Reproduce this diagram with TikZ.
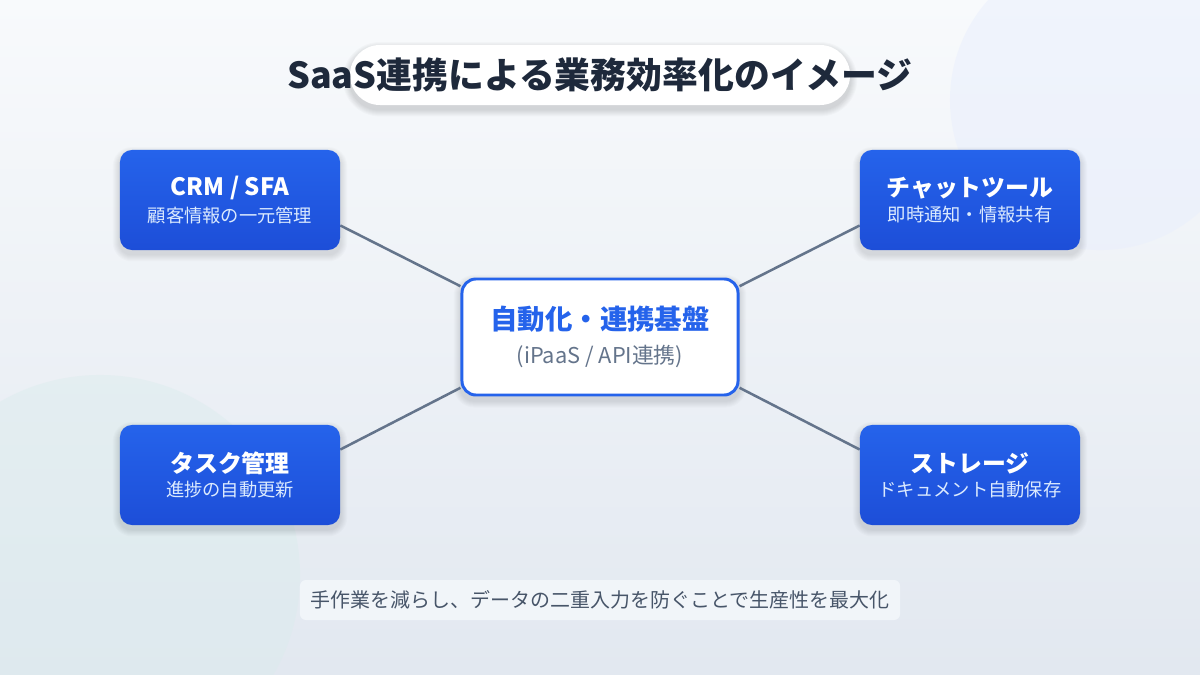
\documentclass[tikz,border=0pt]{standalone}
\usepackage{fontspec}
\setmainfont{Noto Sans CJK JP}

\definecolor{bgtop}{HTML}{F8FAFC}
\definecolor{bgbot}{HTML}{E2E8F0}
\definecolor{appblue}{HTML}{2563EB}
\definecolor{appdeep}{HTML}{1D4ED8}
\definecolor{appsub}{HTML}{DBEAFE}
\definecolor{linkgray}{HTML}{64748B}
\definecolor{inkdark}{HTML}{1E293B}
\definecolor{capfill}{HTML}{F1F5F9}
\definecolor{capink}{HTML}{475569}

\pgfdeclarelayer{back}
\pgfsetlayers{back,main}

\tikzset{
  app/.style={rounded corners=0.3cm, top color=appblue, bottom color=appdeep, text=white,
    minimum width=5.5cm, minimum height=2.5cm, align=center},
  link/.style={draw=linkgray, line width=1.8pt},
}
\newcommand{\apptext}[2]{{\fontsize{17}{20}\selectfont\bfseries #1}\\[4pt]{\fontsize{13}{15}\selectfont\color{appsub}#2}}
\newcommand{\softdrop}[3]{%
  \foreach \g in {1,...,7}
    \fill[black, opacity=#3, rounded corners=#2+\g*0.7pt]
      ([shift={(-\g*0.7pt,\g*0.7pt-3pt)}]#1.north west) rectangle ([shift={(\g*0.7pt,-\g*0.7pt-3pt)}]#1.south east);}

\begin{document}
\begin{tikzpicture}[x=0.025cm, y=-0.025cm]
  \useasboundingbox (0,0) rectangle (1200,675);
  \begin{pgfonlayer}{back}
    \shade[top color=bgtop, bottom color=bgbot] (0,0) rectangle (1200,675);
    \begin{scope}
      \clip (0,0) rectangle (1200,675);
      \fill[appblue!10, opacity=0.5] (1100,100) circle [radius=3.75cm];
      \fill[teal!15, opacity=0.4] (100,575) circle [radius=5cm];
    \end{scope}
  \end{pgfonlayer}

  \node[fill=white, rounded corners=0.75cm, minimum width=12.5cm, minimum height=1.5cm] (pill) at (600,75) {};
  \node (title) at (600,75) {\fontsize{25.5}{30}\selectfont\bfseries\color{inkdark}SaaS連携による業務効率化のイメージ};

  \node[app] (crm) at (230,200) {\apptext{CRM / SFA}{顧客情報の一元管理}};
  \node[app] (chat) at (970,200) {\apptext{チャットツール}{即時通知・情報共有}};
  \node[app] (task) at (230,475) {\apptext{タスク管理}{進捗の自動更新}};
  \node[app] (storage) at (970,475) {\apptext{ストレージ}{ドキュメント自動保存}};

  \node[draw=appblue, line width=2.1pt, fill=white, rounded corners=0.35cm, minimum width=6.9cm, minimum height=2.9cm,
    align=center] (hub) at (600,337)
    {{\fontsize{19.5}{24}\selectfont\bfseries\color{appblue}自動化・連携基盤}\\[8pt]{\fontsize{15.5}{18}\selectfont\color{linkgray}(iPaaS / API連携)}};

  \node[fill=capfill, rounded corners=0.15cm, minimum width=15cm, minimum height=1cm] (caption) at (600,600)
    {\fontsize{14.2}{17}\selectfont\color{capink}手作業を減らし、データの二重入力を防ぐことで生産性を最大化};

  \begin{pgfonlayer}{back}
    \softdrop{pill}{0.75cm}{0.02}
    \softdrop{crm}{0.3cm}{0.015}
    \softdrop{chat}{0.3cm}{0.015}
    \softdrop{task}{0.3cm}{0.015}
    \softdrop{storage}{0.3cm}{0.015}
    \softdrop{hub}{0.35cm}{0.015}
    \draw[link] (crm.-13) -- (hub.160);
    \draw[link] (chat.193) -- (hub.20);
    \draw[link] (task.13) -- (hub.200);
    \draw[link] (storage.167) -- (hub.340);
  \end{pgfonlayer}
\end{tikzpicture}
\end{document}
